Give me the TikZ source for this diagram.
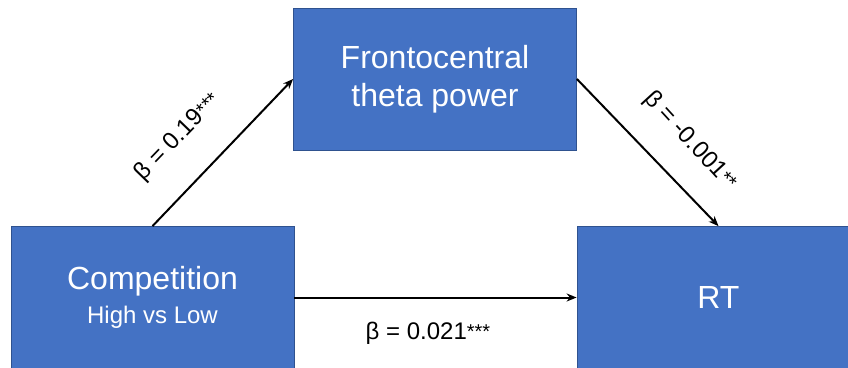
\documentclass[tikz,border=0pt]{standalone}
\usepackage{fontspec}
\setmainfont{Liberation Sans}
\usetikzlibrary{arrows.meta}
\definecolor{boxblue}{HTML}{4472C4}
\definecolor{boxedge}{HTML}{2F528F}
\tikzset{
  box/.style={draw=boxedge, line width=0.8pt, fill=boxblue, text=white, rectangle,
    minimum width=283pt, minimum height=142pt, inner sep=0pt, align=center,
    font=\fontsize{32}{38}\selectfont},
  conn/.style={line width=2pt, -{Stealth[length=10pt,width=8pt]}},
  lbl/.style={font=\fontsize{24}{28}\selectfont, inner sep=0pt}
}
\newcommand{\sigstars}[1]{\raisebox{1pt}{\fontsize{20}{24}\selectfont #1}}
\begin{document}
\begin{tikzpicture}[x=1pt,y=-1pt]
\useasboundingbox (0,0) rectangle (848,367);
\clip (0,0) rectangle (848,367);
\node[box] (comp) at (152.5,297.5) {Competition\\[-4pt]{\fontsize{24}{28}\selectfont High vs Low}};
\node[box] (theta) at (435,79) {Frontocentral\\theta power};
\node[box] (rt) at (718.5,297.5) {RT};
\draw[conn] (comp.north) -- (theta.west);
\draw[conn] (theta.east) -- (rt.north);
\draw[conn] (comp.east) -- (rt.west);
\node[lbl, rotate=46] (l1) at (178,137) {β = 0.19\sigstars{***}};
\node[lbl, rotate=-47.5] (l2) at (690,141) {β = -0.001\sigstars{**}};
\node[lbl] (l3) at (428,333) {β = 0.021\sigstars{***}};
\end{tikzpicture}
\end{document}
